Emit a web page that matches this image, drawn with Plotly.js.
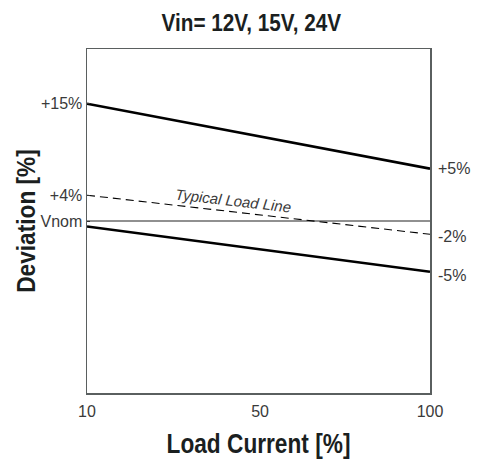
<!DOCTYPE html>
<html>
<head>
<meta charset="utf-8">
<script src="https://cdn.plot.ly/plotly-3.0.1.min.js"></script>
<style>html,body{margin:0;padding:0;background:#fff;}#chart{width:477px;height:459px;}</style>
</head>
<body>
<div id="chart"></div>
<script>
// Data (schematic deviation envelope)
const loadCurrent = [10, 100];
const upperLimit = [15, 6.7];
const typicalLoad = [3.3, -1.7];
const lowerLimit = [-0.7, -6.5];
const nominal = [0, 0];

const xTickVals = [10, 55.4, 100];
const xTickText = ['10', '50', '100'];
const yTickVals = [15, 3.3, 0];
const yTickText = ['+15%', '+4%', 'Vnom'];
const rightLabels = ['+5%', '-2%', '-5%'];

const FONT = '"Liberation Sans", Arial, sans-serif';
const tickColor = '#3a3a3a';
const titleColor = '#1b1f1f';

const traces = [
  {x: loadCurrent, y: nominal, mode: 'lines', line: {color: '#6b6b6b', width: 1.6}, hoverinfo: 'skip'},
  {x: loadCurrent, y: upperLimit, mode: 'lines', line: {color: '#000', width: 2.6}},
  {x: loadCurrent, y: typicalLoad, mode: 'lines', line: {color: '#000', width: 1.1, dash: '8px,5px'}},
  {x: loadCurrent, y: lowerLimit, mode: 'lines', line: {color: '#000', width: 2.6}}
];

const rightVals = [upperLimit[1], typicalLoad[1], lowerLimit[1]];
const rightShift = [0, -2, -4];
const annotations = rightLabels.map((t, i) => ({
  x: 1, xref: 'paper', y: rightVals[i], yref: 'y',
  text: t, showarrow: false, xanchor: 'left', yanchor: 'middle',
  xshift: 6, yshift: rightShift[i],
  font: {family: FONT, size: 16, color: tickColor}
}));
annotations.push({
  x: 48.3, y: 2.65, xref: 'x', yref: 'y', text: '<i>Typical Load Line</i>', showarrow: false,
  textangle: 6.5, xanchor: 'center', yanchor: 'middle',
  font: {family: FONT, size: 15, color: tickColor}
});

const layout = {
  width: 477, height: 459,
  margin: {l: 87, r: 47, t: 49, b: 66},
  paper_bgcolor: '#fff', plot_bgcolor: '#fff',
  showlegend: false,
  title: {
    text: '<b>Vin= 12V, 15V, 24V</b>',
    x: 0.527, xref: 'container', xanchor: 'center',
    y: 1 - 23 / 459, yref: 'container', yanchor: 'middle',
    font: {family: FONT, size: 23.3, color: titleColor}
  },
  xaxis: {
    range: [10, 100], tickvals: xTickVals, ticktext: xTickText,
    showgrid: false, zeroline: false, showline: true, mirror: true,
    linecolor: '#5a5f5f', linewidth: 1.5, ticks: '', ticklabelstandoff: 3,
    tickfont: {family: FONT, size: 16, color: tickColor},
    title: {text: '<b>Load Current [%]</b>', standoff: 18, font: {family: FONT, size: 28, color: titleColor}}
  },
  yaxis: {
    range: [-22, 22], tickvals: yTickVals, ticktext: yTickText,
    showgrid: false, zeroline: false, showline: true, mirror: true,
    linecolor: '#5a5f5f', linewidth: 1.5, ticks: 'inside', ticklen: 3, tickcolor: '#333',
    tickfont: {family: FONT, size: 16, color: tickColor},
    title: {text: '<b>Deviation [%]</b>', standoff: 0, font: {family: FONT, size: 25.5, color: titleColor}}
  },
  annotations: annotations
};

// Horizontally condense a text element around its anchor (imitates the condensed face of the original)
function condense(gd, selector, s, dx, dy) {
  const el = gd.querySelector(selector);
  if (!el) return;
  const x = parseFloat(el.getAttribute('x')) || 0;
  const y = parseFloat(el.getAttribute('y')) || 0;
  const t = el.getAttribute('transform') || '';
  el.setAttribute('transform', 'translate(' + (dx || 0) + ',' + (dy || 0) + ') ' + t +
    ' translate(' + x + ',' + y + ') scale(' + s + ',1) translate(' + (-x) + ',' + (-y) + ')');
}

Plotly.newPlot('chart', traces, layout, {staticPlot: true, displayModeBar: false}).then(gd => {
  condense(gd, 'text.gtitle', 0.89, 0, 0);
  condense(gd, 'text.xtitle', 0.81, 0, 0);
  condense(gd, 'text.ytitle', 0.89, 3, 0);
});
</script>
</body>
</html>
